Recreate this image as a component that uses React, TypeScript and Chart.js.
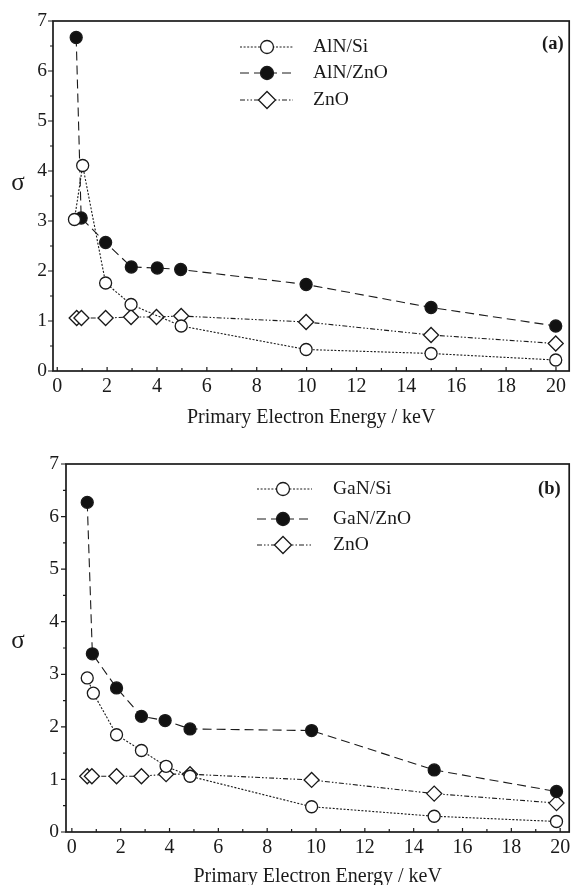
import React, { useEffect, useRef } from 'react';
import { Chart, registerables } from 'chart.js';

Chart.register(...registerables);

// ---------- Panel (a) ----------
const aLabels = ['AlN/Si', 'AlN/ZnO', 'ZnO'];
const aAlNSiX = [0.69, 1.02, 1.94, 2.96, 4.97, 9.98, 14.99, 19.99];
const aAlNSiY = [3.03, 4.11, 1.76, 1.33, 0.9, 0.43, 0.35, 0.22];
const aAlNZnOX = [0.76, 0.96, 1.94, 2.97, 4.01, 4.95, 9.98, 14.99, 19.99];
const aAlNZnOY = [6.67, 3.06, 2.57, 2.08, 2.06, 2.03, 1.73, 1.27, 0.9];
const aZnOX = [0.78, 0.97, 1.94, 2.96, 3.98, 4.97, 9.98, 14.99, 19.99];
const aZnOY = [1.06, 1.06, 1.06, 1.08, 1.08, 1.1, 0.98, 0.72, 0.55];

// ---------- Panel (b) ----------
const bLabels = ['GaN/Si', 'GaN/ZnO', 'ZnO'];
const bGaNSiX = [0.63, 0.88, 1.83, 2.85, 3.86, 4.84, 9.82, 14.84, 19.85];
const bGaNSiY = [2.93, 2.64, 1.85, 1.55, 1.25, 1.06, 0.48, 0.3, 0.2];
const bGaNZnOX = [0.63, 0.84, 1.83, 2.85, 3.82, 4.84, 9.82, 14.84, 19.85];
const bGaNZnOY = [6.27, 3.39, 2.74, 2.2, 2.12, 1.96, 1.93, 1.18, 0.77];
const bZnOX = [0.63, 0.82, 1.83, 2.85, 3.86, 4.84, 9.82, 14.84, 19.85];
const bZnOY = [1.06, 1.06, 1.06, 1.06, 1.1, 1.1, 0.99, 0.73, 0.55];

// ---------- Axes ----------
const xTicks = [0, 2, 4, 6, 8, 10, 12, 14, 16, 18, 20];
const xMinorTicks = [1, 3, 5, 7, 9, 11, 13, 15, 17, 19];
const yTicks = [0, 1, 2, 3, 4, 5, 6, 7];
const yMinorTicks = [0.5, 1.5, 2.5, 3.5, 4.5, 5.5, 6.5];
const xTitle = 'Primary Electron Energy / keV';
const yTitle = 'σ';

const SERIF = '"Liberation Serif", "Times New Roman", serif';
const INK = '#1a1a1a';

type Style = { dash: number[]; point: 'circle' | 'rectRot'; fill: string; radius: number };
const styles: Style[] = [
  { dash: [2, 1.6], point: 'circle', fill: '#ffffff', radius: 6 },
  { dash: [9, 5], point: 'circle', fill: '#111111', radius: 6 },
  { dash: [5, 2, 1.5, 2, 1.5, 2], point: 'rectRot', fill: '#ffffff', radius: 7.5 },
];

const pts = (xs: number[], ys: number[]) => xs.map((x, i) => ({ x, y: ys[i] }));

type PanelCfg = {
  width: number;
  height: number;
  padTop: number;
  padRight: number;
  yWidth: number;
  xHeight: number;
  yPad: number;
  xMin: number;
  xMax: number;
  labels: string[];
  series: { x: number; y: number }[][];
  tag: string;
  tagX: number;
  tagY: number;
  sigmaX: number;
  sigmaY: number;
  titleOffset: number;
  legend: { x0: number; x1: number; mx: number; tx: number; rows: number[] };
};

function drawMarker(ctx: CanvasRenderingContext2D, s: Style, x: number, y: number, r: number) {
  ctx.setLineDash([]);
  ctx.beginPath();
  if (s.point === 'circle') {
    ctx.arc(x, y, r, 0, Math.PI * 2);
  } else {
    ctx.moveTo(x - r, y);
    ctx.lineTo(x, y - r);
    ctx.lineTo(x + r, y);
    ctx.lineTo(x, y + r);
    ctx.closePath();
  }
  ctx.fillStyle = s.fill;
  ctx.fill();
  ctx.lineWidth = 1.3;
  ctx.strokeStyle = INK;
  ctx.stroke();
}

function makePlugin(cfg: PanelCfg) {
  return {
    id: 'panelDecor',
    afterDraw(chart: any) {
      const { ctx, chartArea: ca, scales } = chart;
      const xs = scales.x;
      const ys = scales.y;
      ctx.save();
      // frame
      ctx.strokeStyle = INK;
      ctx.lineWidth = 1.7;
      ctx.setLineDash([]);
      ctx.strokeRect(ca.left, ca.top, ca.right - ca.left, ca.bottom - ca.top);
      // x ticks (inward)
      ctx.lineWidth = 1.2;
      ctx.beginPath();
      xTicks.forEach((v) => {
        const px = xs.getPixelForValue(v);
        ctx.moveTo(px, ca.bottom);
        ctx.lineTo(px, ca.bottom - 4);
      });
      xMinorTicks.forEach((v) => {
        const px = xs.getPixelForValue(v);
        ctx.moveTo(px, ca.bottom);
        ctx.lineTo(px, ca.bottom - 3);
      });
      // y ticks (outward)
      yTicks.forEach((v) => {
        const py = ys.getPixelForValue(v);
        ctx.moveTo(ca.left, py);
        ctx.lineTo(ca.left - 5, py);
      });
      yMinorTicks.forEach((v) => {
        const py = ys.getPixelForValue(v);
        ctx.moveTo(ca.left, py);
        ctx.lineTo(ca.left - 3, py);
      });
      ctx.stroke();

      // axis titles
      ctx.fillStyle = INK;
      ctx.font = `20px ${SERIF}`;
      ctx.textAlign = 'center';
      ctx.textBaseline = 'middle';
      ctx.fillText(xTitle, (ca.left + ca.right) / 2, ca.bottom + cfg.titleOffset);
      ctx.font = `25px ${SERIF}`;
      ctx.textBaseline = 'alphabetic';
      ctx.fillText(yTitle, cfg.sigmaX, cfg.sigmaY);

      // legend
      const L = cfg.legend;
      cfg.labels.forEach((lab, i) => {
        const s = styles[i];
        const yy = L.rows[i];
        ctx.strokeStyle = INK;
        ctx.lineWidth = 1;
        ctx.setLineDash(s.dash);
        ctx.beginPath();
        ctx.moveTo(L.x0, yy);
        ctx.lineTo(L.x1, yy);
        ctx.stroke();
        drawMarker(ctx, s, L.mx, yy, s.point === 'circle' ? 6.5 : 8.5);
        ctx.fillStyle = INK;
        ctx.font = `19.5px ${SERIF}`;
        ctx.textAlign = 'left';
        ctx.textBaseline = 'middle';
        ctx.fillText(lab, L.tx, yy);
      });

      // panel tag
      ctx.font = `bold 18.5px ${SERIF}`;
      ctx.textAlign = 'left';
      ctx.textBaseline = 'middle';
      ctx.fillText(cfg.tag, cfg.tagX, cfg.tagY);
      ctx.restore();
    },
  };
}

function Panel({ cfg, top }: { cfg: PanelCfg; top: number }) {
  const ref = useRef<HTMLCanvasElement | null>(null);
  useEffect(() => {
    if (!ref.current) return;
    const chart = new Chart(ref.current, {
      type: 'line',
      data: {
        datasets: cfg.series.map((data, i) => ({
          label: cfg.labels[i],
          data,
          borderColor: INK,
          borderWidth: 1.1,
          borderDash: styles[i].dash,
          pointStyle: styles[i].point,
          pointRadius: styles[i].radius,
          pointBackgroundColor: styles[i].fill,
          pointBorderColor: INK,
          pointBorderWidth: 1.3,
          tension: 0,
          fill: false,
        })),
      },
      options: {
        responsive: false,
        animation: false,
        events: [],
        layout: { padding: { top: cfg.padTop, right: cfg.padRight, left: 0, bottom: 0 } },
        plugins: { legend: { display: false }, tooltip: { enabled: false } },
        scales: {
          x: {
            type: 'linear',
            min: cfg.xMin,
            max: cfg.xMax,
            grid: { display: false, drawTicks: false },
            border: { display: false },
            ticks: {
              font: { family: SERIF, size: 20 },
              color: INK,
              padding: 4,
              maxRotation: 0,
              autoSkip: false,
            },
            afterBuildTicks: (s: any) => {
              s.ticks = xTicks.map((v) => ({ value: v }));
            },
            afterFit: (s: any) => {
              s.height = cfg.xHeight;
            },
          },
          y: {
            type: 'linear',
            min: 0,
            max: 7,
            grid: { display: false, drawTicks: false },
            border: { display: false },
            ticks: {
              font: { family: SERIF, size: 19.5 },
              color: INK,
              padding: cfg.yPad,
              autoSkip: false,
            },
            afterBuildTicks: (s: any) => {
              s.ticks = yTicks.map((v) => ({ value: v }));
            },
            afterFit: (s: any) => {
              s.width = cfg.yWidth;
            },
          },
        },
      } as any,
      plugins: [makePlugin(cfg)],
    });
    return () => chart.destroy();
  }, [cfg]);
  return (
    <canvas
      ref={ref}
      width={cfg.width}
      height={cfg.height}
      style={{ position: 'absolute', left: 0, top, width: cfg.width, height: cfg.height, display: 'block' }}
    />
  );
}

const cfgA: PanelCfg = {
  width: 578,
  height: 445,
  padTop: 21,
  padRight: 1,
  yWidth: 53,
  xHeight: 74,
  yPad: 6,
  xMin: -0.17,
  xMax: 20.53,
  labels: aLabels,
  series: [pts(aAlNSiX, aAlNSiY), pts(aAlNZnOX, aAlNZnOY), pts(aZnOX, aZnOY)],
  tag: '(a)',
  tagX: 542,
  tagY: 44,
  sigmaX: 18,
  sigmaY: 190,
  titleOffset: 47,
  legend: { x0: 240, x1: 293, mx: 267, tx: 313, rows: [47, 73, 100] },
};

const cfgB: PanelCfg = {
  width: 578,
  height: 440,
  padTop: 19,
  padRight: 5,
  yWidth: 66,
  xHeight: 53,
  yPad: 7,
  xMin: -0.24,
  xMax: 20.37,
  labels: bLabels,
  series: [pts(bGaNSiX, bGaNSiY), pts(bGaNZnOX, bGaNZnOY), pts(bZnOX, bZnOY)],
  tag: '(b)',
  tagX: 538,
  tagY: 44,
  sigmaX: 18,
  sigmaY: 203,
  titleOffset: 45,
  legend: { x0: 257, x1: 312, mx: 283, tx: 333, rows: [44, 74, 100] },
};

export default function App() {
  return (
    <div
      style={{
        position: 'absolute',
        left: 0,
        top: 0,
        width: 578,
        height: 885,
        overflow: 'hidden',
        background: '#ffffff',
      }}
    >
      <Panel cfg={cfgA} top={0} />
      <Panel cfg={cfgB} top={445} />
    </div>
  );
}
